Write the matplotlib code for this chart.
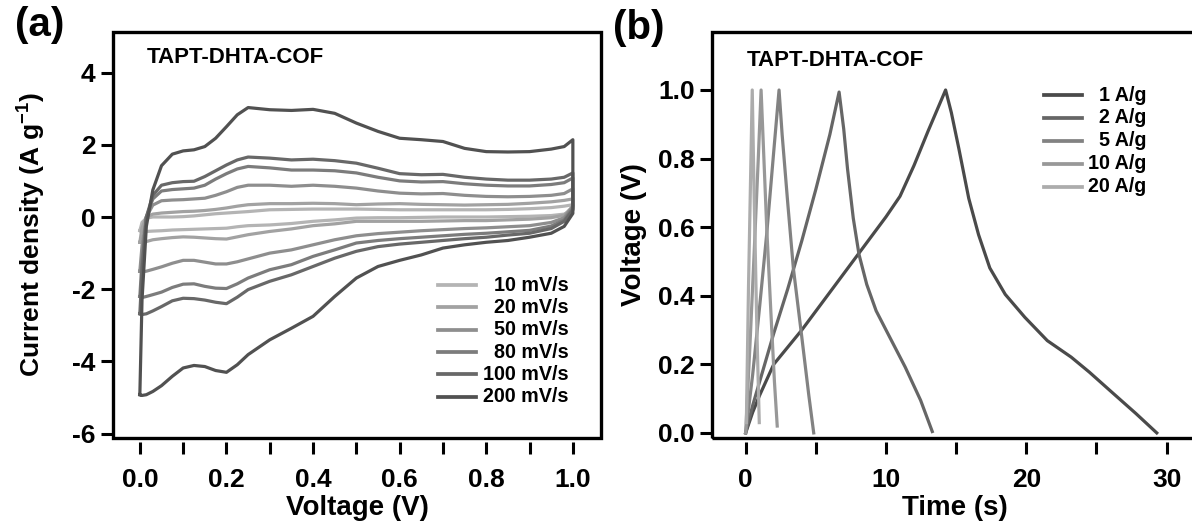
import matplotlib
matplotlib.use("Agg")
import matplotlib.pyplot as plt
from matplotlib.patches import Rectangle
from matplotlib.ticker import MultipleLocator, FormatStrFormatter

plt.rcParams['font.family'] = ['Liberation Sans', 'DejaVu Sans']
plt.rcParams['font.weight'] = 'bold'
plt.rcParams['axes.unicode_minus'] = False
plt.rcParams['mathtext.fontset'] = 'custom'
plt.rcParams['mathtext.rm'] = 'Liberation Sans:bold'
plt.rcParams['mathtext.bf'] = 'Liberation Sans:bold'

# ---------- (a) CV data: voltage grid, upper (anodic) and lower (cathodic) branches ----------
cv_v = [0.0, 0.005, 0.015, 0.03, 0.05, 0.075, 0.1, 0.125, 0.15, 0.175, 0.2, 0.225, 0.25,
        0.3, 0.35, 0.4, 0.45, 0.5, 0.55, 0.6, 0.65, 0.7, 0.75, 0.8, 0.85, 0.9, 0.95, 0.98, 1.0]

up_10 = [-0.38, -0.15, -0.03, 0.0, 0.0, 0.0, 0.01, 0.03, 0.06, 0.09, 0.11, 0.13, 0.15,
         0.2, 0.21, 0.22, 0.22, 0.22, 0.21, 0.2, 0.2, 0.2, 0.2, 0.2, 0.21, 0.23, 0.26, 0.3, 0.34]
dn_10 = [-0.38, -0.4, -0.4, -0.39, -0.38, -0.36, -0.35, -0.34, -0.33, -0.32, -0.31, -0.27, -0.24,
         -0.22, -0.18, -0.12, -0.08, -0.03, -0.02, -0.02, -0.01, 0.0, 0.0, 0.0, 0.01, 0.02, 0.04, 0.08, 0.2]

up_20 = [-0.7, -0.3, 0.0, 0.08, 0.11, 0.13, 0.15, 0.16, 0.18, 0.21, 0.25, 0.3, 0.34,
         0.37, 0.37, 0.38, 0.37, 0.34, 0.36, 0.37, 0.35, 0.34, 0.33, 0.34, 0.35, 0.38, 0.42, 0.46, 0.5]
dn_20 = [-0.7, -0.7, -0.68, -0.63, -0.6, -0.57, -0.55, -0.56, -0.58, -0.6, -0.61, -0.55, -0.49,
         -0.4, -0.33, -0.24, -0.19, -0.12, -0.12, -0.12, -0.12, -0.11, -0.1, -0.1, -0.08, -0.06, -0.02, 0.05, 0.3]

up_50 = [-1.5, -0.8, 0.0, 0.33, 0.45, 0.47, 0.48, 0.5, 0.52, 0.6, 0.7, 0.82, 0.88,
         0.88, 0.85, 0.88, 0.85, 0.8, 0.72, 0.66, 0.64, 0.65, 0.6, 0.57, 0.56, 0.57, 0.6, 0.65, 0.78]
dn_50 = [-1.5, -1.52, -1.5, -1.45, -1.38, -1.28, -1.2, -1.2, -1.25, -1.3, -1.3, -1.24, -1.16,
         -1.0, -0.91, -0.77, -0.63, -0.52, -0.46, -0.42, -0.38, -0.35, -0.32, -0.3, -0.27, -0.24, -0.15, -0.02, 0.3]

up_80 = [-2.2, -1.2, 0.0, 0.5, 0.72, 0.76, 0.78, 0.8, 0.88, 1.05, 1.2, 1.33, 1.4,
         1.36, 1.3, 1.3, 1.28, 1.22, 1.1, 1.0, 0.97, 0.98, 0.92, 0.88, 0.86, 0.86, 0.9, 0.95, 1.08]
dn_80 = [-2.2, -2.23, -2.2, -2.15, -2.08, -1.95, -1.86, -1.85, -1.92, -1.97, -1.98, -1.85, -1.69,
         -1.46, -1.32, -1.09, -0.91, -0.72, -0.65, -0.6, -0.56, -0.52, -0.48, -0.45, -0.41, -0.37, -0.25, -0.08, 0.25]

up_100 = [-2.68, -1.5, 0.0, 0.6, 0.88, 0.95, 0.98, 0.99, 1.12, 1.28, 1.44, 1.58, 1.66,
          1.63, 1.58, 1.6, 1.56, 1.49, 1.35, 1.2, 1.17, 1.18, 1.1, 1.05, 1.02, 1.02, 1.05, 1.1, 1.22]
dn_100 = [-2.68, -2.7, -2.68, -2.6, -2.48, -2.32, -2.25, -2.26, -2.3, -2.36, -2.4, -2.22, -2.01,
          -1.78, -1.6, -1.37, -1.14, -0.95, -0.82, -0.75, -0.7, -0.65, -0.6, -0.56, -0.5, -0.45, -0.32, -0.12, 0.2]

up_200 = [-4.92, -2.3, -0.26, 0.75, 1.42, 1.74, 1.83, 1.86, 1.95, 2.18, 2.5, 2.83, 3.03,
          2.97, 2.95, 2.98, 2.87, 2.6, 2.37, 2.18, 2.14, 2.09, 1.9, 1.81, 1.8, 1.81, 1.88, 1.95, 2.14]
dn_200 = [-4.92, -4.94, -4.92, -4.83, -4.67, -4.41, -4.18, -4.11, -4.14, -4.25, -4.3, -4.09, -3.81,
          -3.4, -3.08, -2.75, -2.2, -1.69, -1.37, -1.2, -1.05, -0.86, -0.77, -0.7, -0.65, -0.56, -0.45, -0.26, 0.1]

cv_labels = ['  10 mV/s', '  20 mV/s', '  50 mV/s', '  80 mV/s', '100 mV/s', '200 mV/s']
cv_up = [up_10, up_20, up_50, up_80, up_100, up_200]
cv_dn = [dn_10, dn_20, dn_50, dn_80, dn_100, dn_200]
cv_colors = ['#b4b4b4', '#a2a2a2', '#8e8e8e', '#7c7c7c', '#686868', '#515151']

# ---------- (b) GCD data: time (s) and voltage (V) ----------
t_1 = [0, 0.5, 1, 2, 3, 4, 6, 8, 10, 11, 12, 13, 14.25,
       14.66, 15.2, 15.9, 16.6, 17.4, 18.5, 19.9, 21.5, 23.2, 24.5, 26.2, 27.8, 29.3]
u_1 = [0, 0.06, 0.11, 0.2, 0.25, 0.3, 0.41, 0.52, 0.63, 0.69, 0.78, 0.88, 1.0,
       0.934, 0.828, 0.684, 0.578, 0.481, 0.404, 0.337, 0.269, 0.221, 0.177, 0.115, 0.057, 0.0]
t_2 = [0, 0.5, 1, 2, 3, 4, 5, 6, 6.66,
       6.99, 7.26, 7.67, 8.08, 8.63, 9.3, 10.27, 11.37, 12.47, 13.3]
u_2 = [0, 0.08, 0.15, 0.29, 0.42, 0.56, 0.71, 0.87, 0.994,
       0.886, 0.77, 0.626, 0.52, 0.433, 0.356, 0.279, 0.192, 0.095, 0.004]
t_5 = [0, 0.5, 1.0, 1.5, 2.0, 2.38, 2.6, 3.0, 3.4, 3.97, 4.5, 4.85]
u_5 = [0, 0.17, 0.37, 0.58, 0.82, 1.0, 0.87, 0.67, 0.48, 0.29, 0.11, 0.0]
t_10 = [0, 0.3, 0.6, 0.9, 1.1, 1.3, 1.5, 1.8, 2.05, 2.25]
u_10 = [0, 0.25, 0.52, 0.8, 1.0, 0.8, 0.6, 0.35, 0.15, 0.02]
t_20 = [0.05, 0.2, 0.47, 0.6, 0.8, 0.97]
u_20 = [0.03, 0.42, 1.0, 0.7, 0.3, 0.03]

gcd_labels = ['  1 A/g', '  2 A/g', '  5 A/g', '10 A/g', '20 A/g']
gcd_t = [t_1, t_2, t_5, t_10, t_20]
gcd_u = [u_1, u_2, u_5, u_10, u_20]
gcd_colors = ['#4a4a4a', '#666666', '#828282', '#989898', '#acacac']

LW = 2.3
TICK_FS = 19
LABEL_FS = 20
fig = plt.figure(figsize=(11.92, 5.24), dpi=100)
ax1 = fig.add_axes([0.0948, 0.1647, 0.4094, 0.7748])
ax2 = fig.add_axes([0.5973, 0.1647, 0.4061, 0.7748])


def style_axes(ax):
    # closed frame, x ticks detached slightly below it
    for s in ax.spines.values():
        s.set_visible(False)
    ax.spines['bottom'].set_position(('outward', 3))
    ax.add_patch(Rectangle((0, 0), 1, 1, transform=ax.transAxes, fill=False,
                           lw=2.4, ec='black', clip_on=False, zorder=10, joinstyle='miter'))
    ax.tick_params(axis='both', which='both', direction='out', length=8.5, width=2.2,
                   labelsize=TICK_FS, color='black')
    ax.tick_params(axis='x', which='both', pad=10)
    ax.tick_params(axis='y', pad=4)
    for lab in ax.get_xticklabels() + ax.get_yticklabels():
        lab.set_fontweight('bold')


# ---- panel (a) ----
for up, dn, col in zip(cv_up, cv_dn, cv_colors):
    xs = cv_v + cv_v[::-1]
    ys = up + dn[::-1]
    ax1.plot(xs, ys, color=col, lw=LW, solid_joinstyle='round')
ax1.set_xlim(-0.062, 1.065)
ax1.set_ylim(-6.11, 5.13)
ax1.xaxis.set_major_locator(MultipleLocator(0.2))
ax1.xaxis.set_minor_locator(MultipleLocator(0.1))
ax1.yaxis.set_major_locator(MultipleLocator(2))
ax1.xaxis.set_major_formatter(FormatStrFormatter('%.1f'))
style_axes(ax1)
ax1.set_xlabel('Voltage (V)', fontsize=LABEL_FS, fontweight='bold')
ax1.set_ylabel(r'Current density (A g$^{\mathbf{-1}}$)', fontsize=19, fontweight='bold')
ax1.xaxis.set_label_coords(0.5, -0.142)
ax1.yaxis.set_label_coords(-0.135, 0.5)
ax1.text(0.016, 4.41, 'TAPT-DHTA-COF', fontsize=16, fontweight='bold', va='center')

for i, (lab, col) in enumerate(zip(cv_labels, cv_colors)):
    y = 0.376 - i * 0.055
    ax1.plot([0.666, 0.744], [y, y], transform=ax1.transAxes, color=col, lw=LW + 0.4)
    ax1.text(0.934, y, lab, transform=ax1.transAxes, ha='right', va='center',
             fontsize=14.2, fontweight='bold')

# ---- panel (b) ----
for t, u, col in zip(gcd_t, gcd_u, gcd_colors):
    ax2.plot(t, u, color=col, lw=LW)
ax2.set_xlim(-2.4, 32.1)
ax2.set_ylim(-0.014, 1.17)
ax2.xaxis.set_major_locator(MultipleLocator(10))
ax2.xaxis.set_minor_locator(MultipleLocator(5))
ax2.yaxis.set_major_locator(MultipleLocator(0.2))
ax2.yaxis.set_major_formatter(FormatStrFormatter('%.1f'))
style_axes(ax2)
ax2.set_xlabel('Time (s)', fontsize=LABEL_FS, fontweight='bold')
ax2.set_ylabel('Voltage (V)', fontsize=LABEL_FS, fontweight='bold')
ax2.xaxis.set_label_coords((955 - 712) / 484, -0.142)
ax2.yaxis.set_label_coords(-0.135, 0.5)
ax2.text(0.1, 1.085, 'TAPT-DHTA-COF', fontsize=16, fontweight='bold', va='center')

for i, (lab, col) in enumerate(zip(gcd_labels, gcd_colors)):
    y = 0.844 - i * 0.0565
    ax2.plot([0.686, 0.764], [y, y], transform=ax2.transAxes, color=col, lw=LW + 0.4)
    ax2.text(0.898, y, lab, transform=ax2.transAxes, ha='right', va='center',
             fontsize=14.2, fontweight='bold')

fig.text(0.0336, 0.952, '(a)', fontsize=29, fontweight='bold', ha='center', va='center')
fig.text(0.536, 0.947, '(b)', fontsize=29, fontweight='bold', ha='center', va='center')

fig.savefig('out.png', dpi=100)
